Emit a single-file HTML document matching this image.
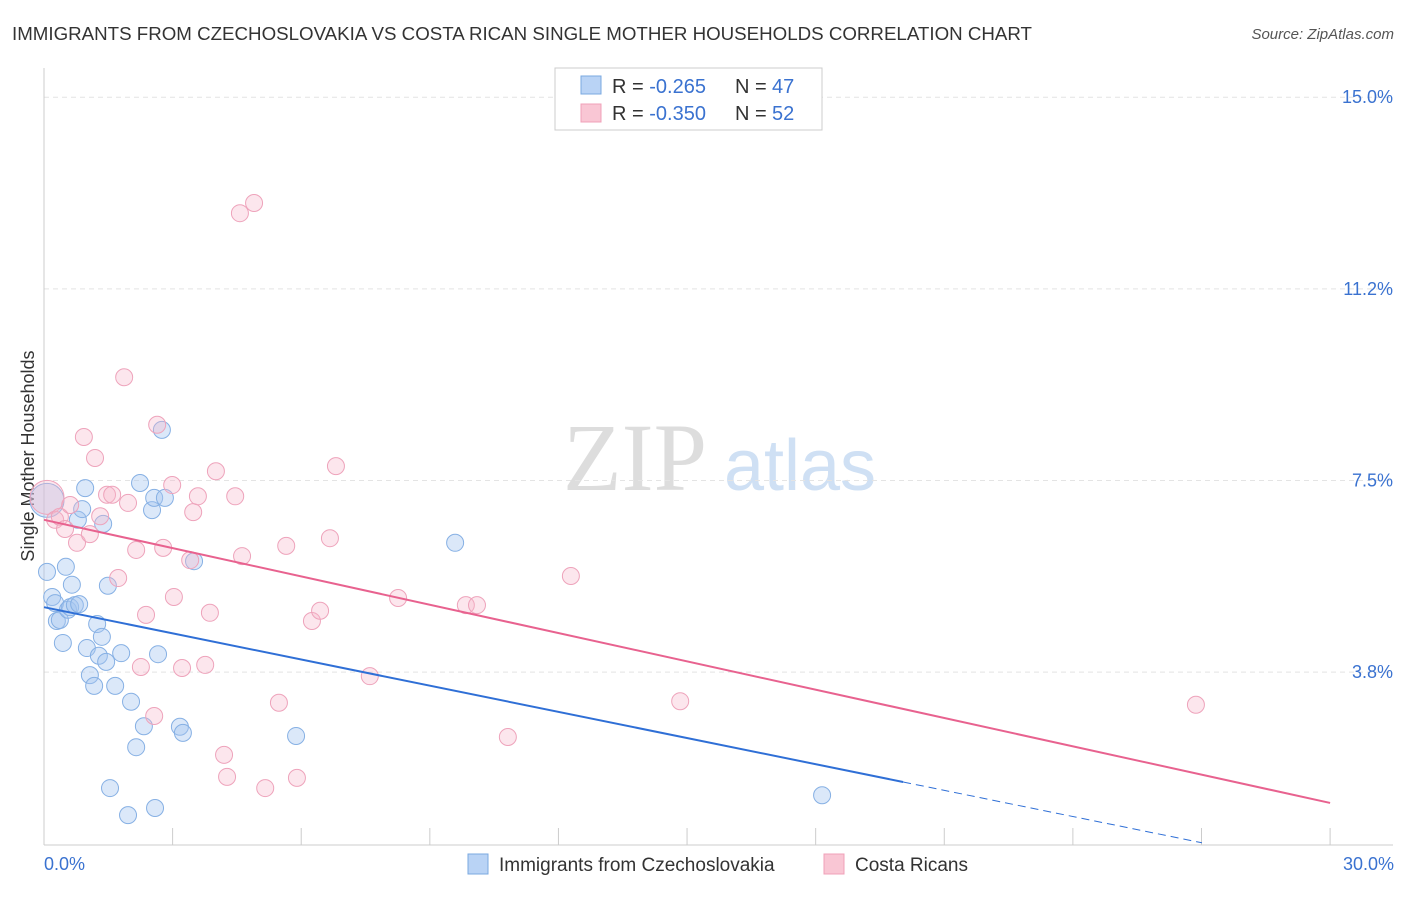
<!DOCTYPE html>
<html><head><meta charset="utf-8"><style>
body{margin:0;background:#fff;font-family:"Liberation Sans",sans-serif;}
</style></head><body>
<svg id="c" width="1406" height="892" xmlns="http://www.w3.org/2000/svg">
<text x="12" y="40" font-size="18" fill="#333" textLength="1020" lengthAdjust="spacingAndGlyphs">IMMIGRANTS FROM CZECHOSLOVAKIA VS COSTA RICAN SINGLE MOTHER HOUSEHOLDS CORRELATION CHART</text>
<text x="1394" y="39" font-size="15" fill="#555" text-anchor="end" font-style="italic">Source: ZipAtlas.com</text>
<text x="34" y="456" font-size="18" fill="#333" text-anchor="middle" transform="rotate(-90 34 456)">Single Mother Households</text>
<g><text x="635" y="490" font-size="96" fill="#ddd" text-anchor="middle" font-family="Liberation Serif,serif">ZIP</text><text x="800" y="490" font-size="72" fill="#cfe0f4" text-anchor="middle">atlas</text></g>
<g id="grid"></g><g id="marks"></g>
<g>
<rect x="555" y="68" width="267" height="62" fill="#fff" stroke="#ccc"/>
<rect x="581" y="76" width="20" height="18" fill="#b9d3f5" stroke="#7aa8e0"/>
<rect x="581" y="104" width="20" height="18" fill="#f9c6d4" stroke="#f0a0b8"/>
<text x="612" y="93" font-size="20" fill="#333">R = <tspan fill="#3a72d0">-0.265</tspan></text>
<text x="735" y="93" font-size="20" fill="#333">N = </text><text x="772" y="93" font-size="20" fill="#3a72d0">47</text>
<text x="612" y="120" font-size="20" fill="#333">R = <tspan fill="#3a72d0">-0.350</tspan></text>
<text x="735" y="120" font-size="20" fill="#333">N = </text><text x="772" y="120" font-size="20" fill="#3a72d0">52</text>
</g>
<g>
<rect x="468" y="854" width="20" height="20" fill="#b9d3f5" stroke="#7aa8e0"/>
<text x="499" y="871" font-size="19" fill="#333">Immigrants from Czechoslovakia</text>
<rect x="824" y="854" width="20" height="20" fill="#f9c6d4" stroke="#f0a0b8"/>
<text x="855" y="871" font-size="19" fill="#333">Costa Ricans</text>
</g>
<text x="44" y="870" font-size="18" fill="#3a72d0">0.0%</text>
<text x="1394" y="870" font-size="18" fill="#3a72d0" text-anchor="end">30.0%</text>
</svg>
<script>
const yTicks=[15.0,11.25,7.5,3.75];
const yTickLabels=["15.0%","11.2%","7.5%","3.8%"];
const blueX=[0.07,0.07,0.19,0.26,0.30,0.37,0.44,0.51,0.56,0.65,0.61,0.72,0.82,0.79,0.89,0.96,1.00,1.24,1.28,1.35,1.45,1.07,1.17,1.66,1.49,1.38,1.80,2.03,2.24,2.52,2.57,2.82,2.75,2.66,2.33,2.15,3.17,3.24,3.50,5.88,1.54,1.96,2.59,9.59,18.15];
const blueY=[7.11,5.71,5.22,5.10,4.75,4.77,4.32,5.81,4.97,5.46,5.02,5.06,5.08,6.73,6.94,7.35,4.22,4.69,4.07,4.44,3.95,3.69,3.48,3.48,5.44,6.65,4.12,3.17,7.45,6.92,7.16,7.16,8.49,4.10,2.69,2.28,2.68,2.56,5.92,2.50,1.48,0.95,1.09,6.28,1.34];
const pinkX=[0.07,0.26,0.37,0.49,0.61,0.77,0.93,1.07,1.19,1.31,1.47,1.59,1.73,1.87,1.96,2.15,2.26,2.38,2.57,2.64,2.78,2.99,3.03,3.22,3.41,3.48,3.59,3.76,3.87,4.01,4.20,4.27,4.46,4.57,4.62,4.90,5.16,5.48,5.65,5.90,6.25,6.44,6.81,6.67,7.60,8.26,9.84,10.10,10.82,12.29,14.84,26.87];
const pinkY=[7.17,6.73,6.79,6.55,7.02,6.28,8.35,6.45,7.94,6.80,7.22,7.22,5.59,9.52,7.06,6.14,3.85,4.87,2.89,8.59,6.18,7.41,5.22,3.83,5.94,6.88,7.19,3.89,4.91,7.68,2.13,1.70,7.19,12.73,6.02,12.93,1.48,3.15,6.22,1.68,4.75,4.95,7.78,6.37,3.67,5.20,5.06,5.06,2.48,5.63,3.18,3.11];
const blueTrend=[5.02,-0.1707];
const pinkTrend=[6.73,-0.1847];
const X=v=>44+v*42.87, Y=v=>863.7-v*51.1;
const NS="http://www.w3.org/2000/svg";
const grid=document.getElementById('grid'), marks=document.getElementById('marks');
function mk(tag,attrs,parent){const e=document.createElementNS(NS,tag);for(const k in attrs)e.setAttribute(k,attrs[k]);parent.appendChild(e);return e;}
yTicks.forEach((t,i)=>{
 const l=mk('line',{x1:44,x2:1393,y1:Y(t),y2:Y(t),stroke:'#e4e4e4','stroke-dasharray':'5,4'},grid);
 
 
 const tx=mk('text',{x:1393,y:Y(t)+6,'font-size':18,fill:'#3a72d0','text-anchor':'end'},grid);
 tx.textContent=yTickLabels[i];
 
 
});
const ax=mk('line',{x1:44,x2:44,y1:68,y2:845,stroke:'#ccc'},grid);


const bx=mk('line',{x1:44,x2:1393,y1:845,y2:845,stroke:'#ccc'},grid);


for(let i=1;i<=10;i++){const t=mk('line',{x1:X(i*3),x2:X(i*3),y1:828,y2:845,stroke:'#ccc'},grid);
 
 }
function pts(xs,ys,fill,stroke,name){xs.forEach((x,i)=>{
 const r=(i===0&&x<0.1)?17:8.5;
 const c=mk('circle',{cx:X(x),cy:Y(ys[i]),r:r,fill:fill,stroke:stroke,'stroke-width':1},marks);
 
 });}
pts(blueX,blueY,'rgba(165,198,240,0.4)','#86b0e4','blue-point');
pts(pinkX,pinkY,'rgba(246,182,202,0.35)','#eea3bb','pink-point');
let l1=mk('line',{x1:X(0),y1:Y(blueTrend[0]),x2:X(20.04),y2:Y(blueTrend[0]+blueTrend[1]*20.04),stroke:'#2f6fd6','stroke-width':2},marks);


let l2=mk('line',{x1:X(20.04),y1:Y(blueTrend[0]+blueTrend[1]*20.04),x2:X(27.01),y2:Y(blueTrend[0]+blueTrend[1]*27.01),stroke:'#2f6fd6','stroke-width':1,'stroke-dasharray':'8,5'},marks);


let l3=mk('line',{x1:X(0),y1:Y(pinkTrend[0]),x2:X(30),y2:Y(pinkTrend[0]+pinkTrend[1]*30),stroke:'#e8628f','stroke-width':2},marks);


</script>
</body></html>
